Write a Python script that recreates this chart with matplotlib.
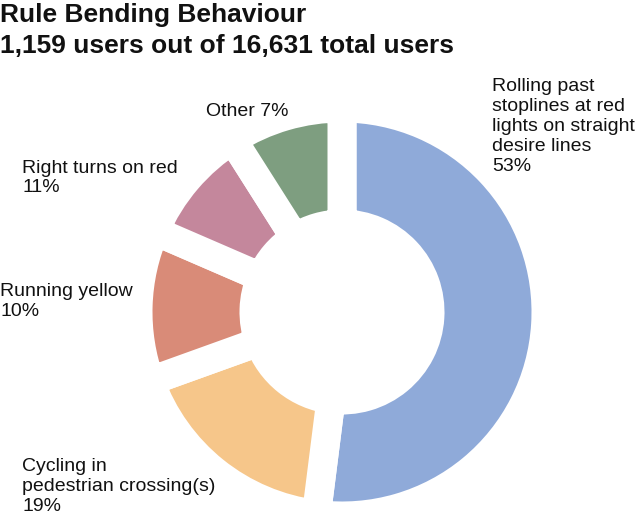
import matplotlib
matplotlib.use('Agg')
import matplotlib.pyplot as plt

# data ---------------------------------------------------------------
categories = ['Rolling past\nstoplines at red\nlights on straight\ndesire lines',
              'Cycling in\npedestrian crossing(s)',
              'Running yellow',
              'Right turns on red',
              'Other']
shares = [53, 19, 10, 11, 7]             # printed in the labels
arc_sizes = [52, 17.5, 12, 9.5, 9]       # wedge sizes as drawn in the picture
colors = ['#8FAAD9', '#F6C68A', '#D98B78', '#C4879C', '#7E9E80']

title_1 = 'Rule Bending Behaviour'
title_2 = '1,159 users out of 16,631 total users'

plt.rcParams['font.family'] = ['Liberation Sans', 'DejaVu Sans']

W, H = 640, 516
fig = plt.figure(figsize=(W / 100, H / 100), dpi=100)
ax = fig.add_axes([0, 0, 1, 1])

# ring: gaps come from a thick white edge (29 px)
gap_pt = 29 * 72 / 100
ax.pie(arc_sizes, colors=colors, startangle=90, counterclock=False,
       radius=204, center=(342, H - 312),
       wedgeprops=dict(width=116, edgecolor='white', linewidth=gap_pt,
                       joinstyle='miter'))
ax.set_xlim(0, W)
ax.set_ylim(0, H)
ax.set_aspect('equal')
ax.axis('off')

# titles
ax.text(0, H - 15, title_1, fontsize=19, fontweight='bold', color='#111111',
        ha='left', va='center')
ax.text(0, H - 46, title_2, fontsize=19, fontweight='bold', color='#111111',
        ha='left', va='center')

# labels: (x, block centre y in image px)
label_pos = [(492, 126.5), (22, 486.5), (0, 301.5), (22, 178), (206, 112)]
for cat, val, (lx, ly) in zip(categories, shares, label_pos):
    if cat == 'Other':
        txt = '%s %d%%' % (cat, val)
    else:
        txt = '%s\n%d%%' % (cat, val)
    ax.text(lx, H - ly, txt, fontsize=14, color='#111111', ha='left',
            va='center', linespacing=1.22)

plt.savefig('out.png', dpi=100)
